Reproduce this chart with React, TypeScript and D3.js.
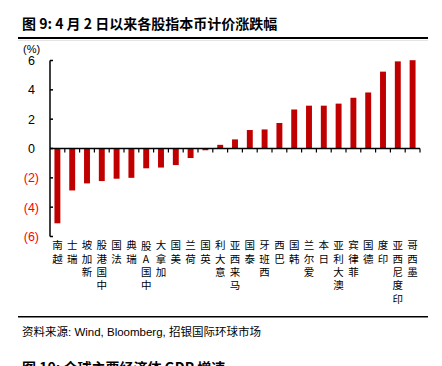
import React from "react";
import * as d3 from "d3";

const categories = ["越南","瑞士","新加坡","中国港股","法国","瑞典","中国A股","加拿大","美国","荷兰","英国","意大利","马来西亚","泰国","西班牙","巴西","韩国","爱尔兰","日本","澳大利亚","菲律宾","德国","印度","印度尼西亚","墨西哥"];
const values = [-5.1,-2.86,-2.38,-2.22,-2.06,-2.0,-1.35,-1.3,-1.13,-0.65,-0.12,0.25,0.62,1.26,1.3,1.74,2.66,2.92,2.92,3.06,3.46,3.82,5.24,5.94,6.02];
const yTicks = [6,4,2,0,-2,-4,-6];

const W = 442, H = 366;
const X0 = 50, X1 = 420, YTOP = 60.5, YBOT = 236.5;
const LFS = 10.5;
const LSTEP = 13.3;

function glyphOffsets(label: string) {
  // narrow (latin) glyphs get centred in the column and padded to a full step
  const chars = Array.from(label);
  const dx: number[] = [];
  const dy: number[] = [];
  let carryX = 0, carryY = 0;
  chars.forEach(ch => {
    const wide = ch.charCodeAt(0) > 0x2e80;
    const w = wide ? LFS : 0.66 * LFS;
    const shift = (LFS - w) / 2;
    dx.push(carryX);
    dy.push(shift - carryY);
    carryY = shift;
    carryX = LFS - w;
  });
  return { dx: dx.join(" "), dy: dy.join(" ") };
}

export default function App() {
  const x = d3.scaleBand<string>().domain(categories).range([X0, X1]).paddingInner(0.6).paddingOuter(0.3);
  const xb = d3.scaleBand<string>().domain(categories).range([X0, X1]);
  const y = d3.scaleLinear().domain([-6, 6]).range([YBOT, YTOP]);
  const cjk = "'Noto Sans CJK SC', sans-serif";
  const latin = "'Liberation Sans', Arial, sans-serif";
  return (
    <svg width={W} height={H} style={{ position: "absolute", left: 0, top: 0, background: "#fff" }}>
      <rect width={W} height={H} fill="#fff" />
      <text x={22} y={29} fontFamily={cjk} fontWeight="bold" fontSize={14} fill="#000">图 9: 4 月 2 日以来各股指本币计价涨跌幅</text>
      <line x1={18} x2={428} y1={38} y2={38} stroke="#000" strokeWidth={2} />
      <line x1={18} x2={428} y1={40.5} y2={40.5} stroke="#e4e4e4" strokeWidth={1} />
      <text x={23} y={53} fontFamily={latin} fontSize={11} fill="#000">(%)</text>
      {/* bars */}
      {categories.map((c, i) => {
        const v = values[i];
        return (
          <rect key={c} x={x(c)} width={x.bandwidth()} y={y(Math.max(0, v))} height={Math.abs(y(v) - y(0))} fill="#c00000" />
        );
      })}
      {/* y axis */}
      <line x1={X0} x2={X0} y1={YTOP} y2={YBOT} stroke="#000" strokeWidth={1.5} />
      {yTicks.map(t => (
        <g key={t}>
          <line x1={X0} x2={X0 + 3} y1={y(t)} y2={y(t)} stroke="#000" strokeWidth={1.5} />
          <text x={t < 0 ? 39 : 35} y={y(t) + 4.5} textAnchor="end" fontFamily={latin} fontSize={12.5} fill={t < 0 ? "#ff0000" : "#000"}>
            {t < 0 ? `(${-t})` : `${t}`}
          </text>
        </g>
      ))}
      {/* x axis at zero */}
      <line x1={X0} x2={X1} y1={y(0)} y2={y(0)} stroke="#000" strokeWidth={1.5} />
      {categories.map((c) => (
        <line key={"t" + c} x1={(xb(c) as number) + xb.bandwidth()} x2={(xb(c) as number) + xb.bandwidth()} y1={y(0)} y2={y(0) + 4} stroke="#000" strokeWidth={1.2} />
      ))}
      {/* vertical category labels: text runs bottom-to-top, each glyph kept upright */}
      {categories.map((c) => {
        const cx = (xb(c) as number) + xb.bandwidth() / 2;
        const n = Array.from(c).length;
        const bottomCenter = 245.5 + (n - 1) * LSTEP;
        const ox = cx - LFS / 2;
        const oy = bottomCenter + 0.38 * LFS;
        const off = glyphOffsets(c);
        return (
          <text key={"l" + c} transform={`translate(${ox},${oy}) rotate(-90)`} rotate="90" dx={off.dx} dy={off.dy}
            fontFamily={cjk} fontSize={LFS} fill="#000" style={{ letterSpacing: `${LSTEP - LFS}px` }}>
            {c}
          </text>
        );
      })}
      <line x1={18} x2={428} y1={316.7} y2={316.7} stroke="#000" strokeWidth={1.5} />
      <text x={22} y={336} fontFamily={cjk} fontSize={11.5} fill="#000">
        资料来源<tspan fontFamily={latin}>: Wind, Bloomberg, </tspan>招银国际环球市场
      </text>
      <text x={22} y={373} fontFamily={cjk} fontWeight="bold" fontSize={14} fill="#000">图 10: 全球主要经济体 GDP 增速</text>
    </svg>
  );
}
